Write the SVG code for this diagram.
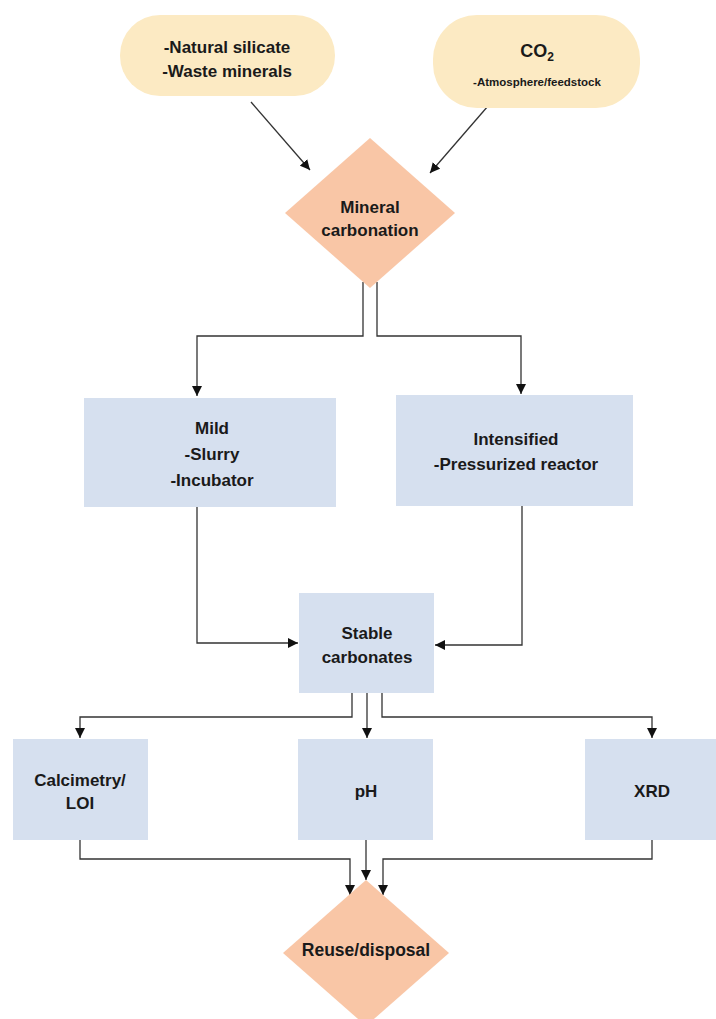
<svg xmlns="http://www.w3.org/2000/svg" width="716" height="1019" viewBox="0 0 716 1019">
<style>
.pill{fill:#FCEAC3;}
.dia{fill:#F9C6A6;}
.box{fill:#D6E0EF;}
.t{font-family:"Liberation Sans",Arial,sans-serif;font-weight:bold;fill:#1a1a1a;text-anchor:middle;font-size:17px;}
.s{font-size:11.5px;}
.c{fill:none;stroke:#333;stroke-width:1.3;}
</style>
<defs>
<marker id="ah" viewBox="0 0 10 10" refX="10" refY="5" markerWidth="10" markerHeight="10" markerUnits="userSpaceOnUse" orient="auto">
<path d="M0,0 L10,5 L0,10 z" fill="#111"/>
</marker>
</defs>
<rect width="716" height="1019" fill="#fff"/>
<g id="connectors">
<path class="c" d="M251,102 L310,170" marker-end="url(#ah)"/>
<path class="c" d="M488,106 L430,173" marker-end="url(#ah)"/>
<path class="c" d="M363,282 V336 H197 V396" marker-end="url(#ah)"/>
<path class="c" d="M377,282 V336 H521 V394" marker-end="url(#ah)"/>
<path class="c" d="M197,507 V643 H298" marker-end="url(#ah)"/>
<path class="c" d="M522,506 V645 H435" marker-end="url(#ah)"/>
<path class="c" d="M352,693 V717 H80 V738" marker-end="url(#ah)"/>
<path class="c" d="M367,693 V738" marker-end="url(#ah)"/>
<path class="c" d="M382,693 V717 H652 V738" marker-end="url(#ah)"/>
<path class="c" d="M80,840 V859 H350 V895" marker-end="url(#ah)"/>
<path class="c" d="M366,840 V880" marker-end="url(#ah)"/>
<path class="c" d="M652,840 V859 H383 V895" marker-end="url(#ah)"/>
</g>
<g id="silicate">
<rect class="pill" x="120" y="15" width="215" height="81" rx="40"/>
<text class="t" x="227" y="53">-Natural silicate</text>
<text class="t" x="227" y="77">-Waste minerals</text>
</g>
<g id="co2">
<rect class="pill" x="433" y="15" width="207" height="93" rx="44"/>
<text class="t" x="537" y="57" style="font-size:18px">CO<tspan dy="4" style="font-size:12px">2</tspan></text>
<text class="t s" x="537" y="86">-Atmosphere/feedstock</text>
</g>
<g id="mineral">
<polygon class="dia" points="370,138 455,213 370,288 285,213"/>
<text class="t" x="370" y="213">Mineral</text>
<text class="t" x="370" y="236">carbonation</text>
</g>
<g id="mild">
<rect class="box" x="84" y="398" width="252" height="109"/>
<text class="t" x="212" y="434">Mild</text>
<text class="t" x="212" y="460">-Slurry</text>
<text class="t" x="212" y="486">-Incubator</text>
</g>
<g id="intensified">
<rect class="box" x="396" y="395" width="237" height="111"/>
<text class="t" x="516" y="445">Intensified</text>
<text class="t" x="516" y="470">-Pressurized reactor</text>
</g>
<g id="stable">
<rect class="box" x="299" y="593" width="135" height="100"/>
<text class="t" x="367" y="639">Stable</text>
<text class="t" x="367" y="663">carbonates</text>
</g>
<g id="calcimetry">
<rect class="box" x="13" y="739" width="135" height="101"/>
<text class="t" x="80" y="786">Calcimetry/</text>
<text class="t" x="80" y="809">LOI</text>
</g>
<g id="ph">
<rect class="box" x="298" y="739" width="135" height="101"/>
<text class="t" x="366" y="797">pH</text>
</g>
<g id="xrd">
<rect class="box" x="585" y="739" width="131" height="101"/>
<text class="t" x="652" y="797">XRD</text>
</g>
<g id="reuse">
<polygon class="dia" points="366,880 449,953 366,1026 283,953"/>
<text class="t" x="366" y="956" style="font-size:17.5px">Reuse/disposal</text>
</g>
</svg>
